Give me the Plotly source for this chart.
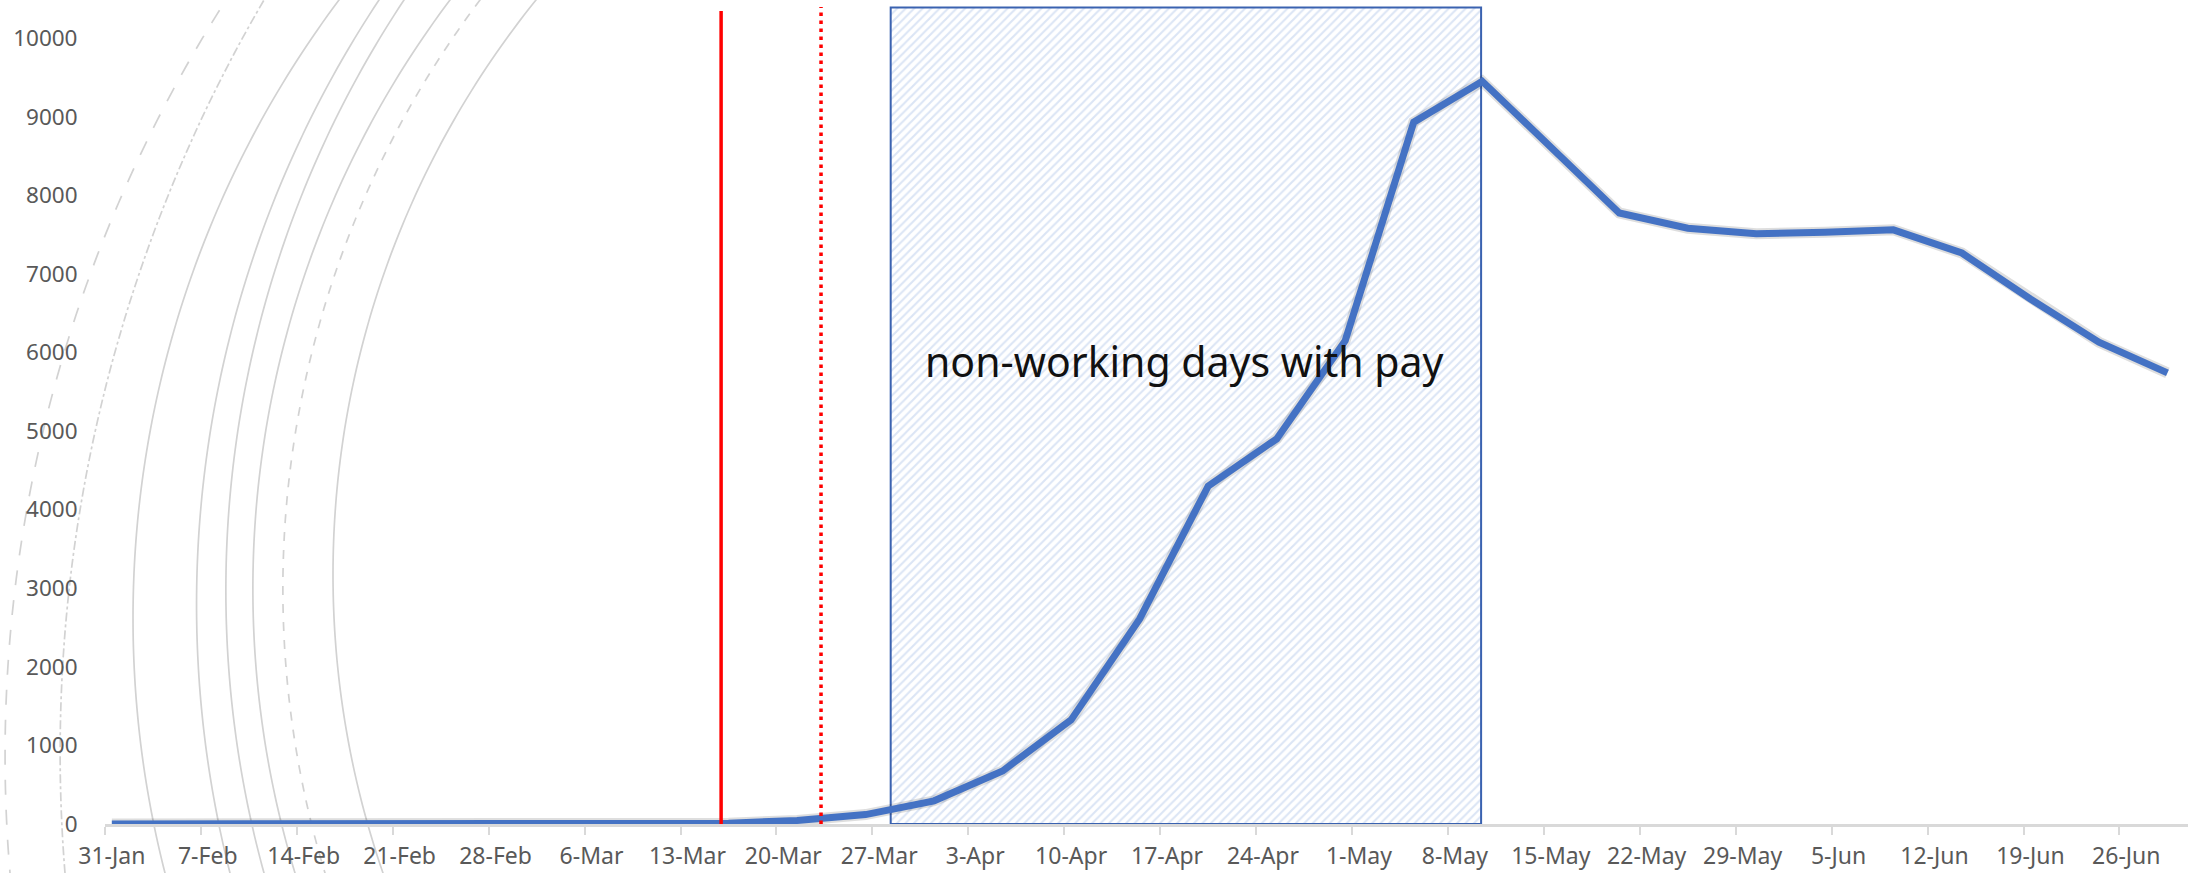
import math
import pandas as pd
import plotly.graph_objects as go

# ---------------- data ----------------
DATES = ["2020-01-31", "2020-02-05", "2020-02-10", "2020-02-15", "2020-02-20", "2020-02-25",
         "2020-03-01", "2020-03-06", "2020-03-11", "2020-03-16", "2020-03-21", "2020-03-26",
         "2020-03-31", "2020-04-05", "2020-04-10", "2020-04-15", "2020-04-20", "2020-04-25",
         "2020-04-30", "2020-05-05", "2020-05-10", "2020-05-15", "2020-05-20", "2020-05-25",
         "2020-05-30", "2020-06-04", "2020-06-09", "2020-06-14", "2020-06-19", "2020-06-24",
         "2020-06-29"]
CASES = [0, 0, 0, 0, 0, 0,
         0, 1, 3, 10, 45, 120,
         295, 675, 1325, 2610, 4300, 4900,
         6150, 8930, 9450, 8620, 7775, 7580,
         7510, 7530, 7560, 7265, 6680, 6130,
         5740]
TICK_LABELS = ["31-Jan", "7-Feb", "14-Feb", "21-Feb", "28-Feb", "6-Mar", "13-Mar", "20-Mar",
               "27-Mar", "3-Apr", "10-Apr", "17-Apr", "24-Apr", "1-May", "8-May", "15-May",
               "22-May", "29-May", "5-Jun", "12-Jun", "19-Jun", "26-Jun"]
Y_TICKS = [0, 1000, 2000, 3000, 4000, 5000, 6000, 7000, 8000, 9000, 10000]
Y_TICK_LABELS = ["0", "1000", "2000", "3000", "4000", "5000", "6000", "7000", "8000", "9000", "10000"]

NWD_START = "2020-03-28 08:00"
NWD_END = "2020-05-10 10:00"
NWD_TOP = 10388
NWD_LABEL = "non-working days with pay"
EVENT_SOLID = "2020-03-15 23:00"
EVENT_DOTTED = "2020-03-23 06:00"

# ---------------- layout constants ----------------
W, H = 2195, 873
ML, MR, MT, MB = 105, 7, 3, 49
PW, PH = W - ML - MR, H - MT - MB
YMAX = 10446
FONT = "Noto Sans, DejaVu Sans, sans-serif"
GRAY = "#595959"

x_pts = pd.to_datetime(DATES) + pd.Timedelta(hours=12)
tick_mid = pd.date_range("2020-01-31", periods=len(TICK_LABELS), freq="7D")
label_pos = tick_mid + pd.Timedelta(hours=12)

fig = go.Figure()

# decorative background arcs: (x at top edge, x at y=573, x at bottom edge) in page pixels
ARCS = [
    (226, 17, 10, "longdash"),
    (264, 71, 65, "dashdot"),
    (339, 134, 165, "solid"),
    (379, 197, 230, "solid"),
    (404, 226, 264, "solid"),
    (450, 253, 295, "solid"),
    (480, 283, 325, "dash"),
    (536, 333, 383, "solid"),
]


def circle3(p1, p2, p3):
    (x1, y1), (x2, y2), (x3, y3) = p1, p2, p3
    d = 2 * (x1 * (y2 - y3) + x2 * (y3 - y1) + x3 * (y1 - y2))
    ux = ((x1**2 + y1**2) * (y2 - y3) + (x2**2 + y2**2) * (y3 - y1) + (x3**2 + y3**2) * (y1 - y2)) / d
    uy = ((x1**2 + y1**2) * (x3 - x2) + (x2**2 + y2**2) * (x1 - x3) + (x3**2 + y3**2) * (x2 - x1)) / d
    return ux, uy, math.hypot(x1 - ux, y1 - uy)


def xp(px):
    return (px - ML) / PW


def yp(py):
    return (H - MB - py) / PH


shapes = []
for xt, xm, xb, dash in ARCS:
    cx, cy, r = circle3((xt, 0), (xm, 573), (xb, 873))
    pts = []
    n = 120
    y_top, y_bot = -15, H + 15
    for i in range(n + 1):
        py = y_top + (y_bot - y_top) * i / n
        dy = py - cy
        px = cx - math.sqrt(max(r * r - dy * dy, 0))
        pts.append((xp(px), yp(py)))
    path = "M " + " L ".join(f"{a:.5f},{b:.5f}" for a, b in pts)
    shapes.append(dict(type="path", xref="paper", yref="paper", path=path,
                       line=dict(color="#d2d2d2", width=1.7, dash=dash), layer="below"))

# event lines
shapes.append(dict(type="line", xref="x", yref="y", x0=EVENT_SOLID, x1=EVENT_SOLID,
                   y0=0, y1=10344, line=dict(color="#ff0000", width=3.5)))
shapes.append(dict(type="line", xref="x", yref="y", x0=EVENT_DOTTED, x1=EVENT_DOTTED,
                   y0=0, y1=10394, line=dict(color="#ff0000", width=3.5, dash="3.5px,4.5px")))

# non-working days box (hatched)
fig.add_trace(go.Scatter(
    x=[NWD_START, NWD_END, NWD_END, NWD_START, NWD_START],
    y=[0, 0, NWD_TOP, NWD_TOP, 0],
    mode="lines", fill="toself",
    fillcolor="white",
    fillpattern=dict(shape="/", fgcolor="#b8cbeb", bgcolor="#ffffff", size=6, solidity=0.35),
    line=dict(color="#3a62b0", width=2),
    hoverinfo="skip", showlegend=False))

# shadow + main line
fig.add_trace(go.Scatter(x=x_pts, y=CASES, mode="lines",
                         line=dict(color="rgba(0,0,0,0.13)", width=11),
                         hoverinfo="skip", showlegend=False))
fig.add_trace(go.Scatter(x=x_pts, y=CASES, mode="lines",
                         line=dict(color="#4472c4", width=7),
                         showlegend=False))

fig.add_annotation(x="2020-04-18 19:00", y=5890, xref="x", yref="y", text=NWD_LABEL,
                   showarrow=False, font=dict(family=FONT, size=41, color="#111111"))

fig.update_layout(
    width=W, height=H,
    margin=dict(l=ML, r=MR, t=MT, b=MB, pad=0),
    paper_bgcolor="white", plot_bgcolor="rgba(0,0,0,0)",
    shapes=shapes,
    showlegend=False,
    font=dict(family=FONT, color=GRAY),
)
fig.update_xaxes(
    type="date", range=["2020-01-31", "2020-07-01"],
    tickmode="array", tickvals=label_pos, ticktext=TICK_LABELS,
    ticks="outside", ticklen=10, tickcolor="rgba(0,0,0,0)",
    tickfont=dict(family=FONT, size=23, color=GRAY),
    showgrid=False, zeroline=False,
    showline=True, linecolor="#d9d9d9", linewidth=2.5,
    minor=dict(tickmode="array", tickvals=tick_mid, ticks="outside", ticklen=8,
               tickcolor="#d9d9d9", tickwidth=2, showgrid=False),
)
fig.update_yaxes(
    range=[0, YMAX], tickmode="array", tickvals=Y_TICKS, ticktext=Y_TICK_LABELS,
    ticks="outside", ticklen=22, tickcolor="rgba(0,0,0,0)",
    tickfont=dict(family=FONT, size=22.5, color=GRAY),
    showgrid=False, zeroline=False, showline=False,
)

fig.write_html("out.html", config={"displayModeBar": False},
               post_script="document.body.style.margin='0';document.body.style.overflow='hidden';")
